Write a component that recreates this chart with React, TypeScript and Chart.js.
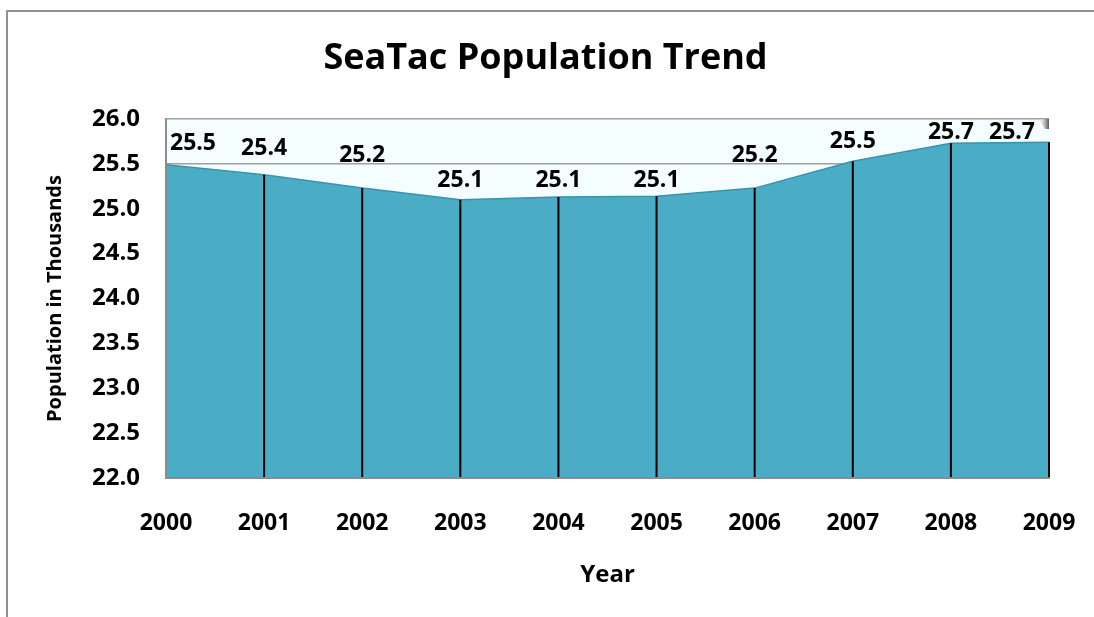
import React, { useEffect, useRef } from "react";
import { Chart, registerables } from "chart.js";

Chart.register(...registerables);

const chartTitle = "SeaTac Population Trend";
const xAxisTitle = "Year";
const yAxisTitle = "Population in Thousands";
const years = ["2000", "2001", "2002", "2003", "2004", "2005", "2006", "2007", "2008", "2009"];
const population = [25.49, 25.38, 25.23, 25.1, 25.13, 25.14, 25.23, 25.53, 25.73, 25.74];
const yMin = 22;
const yMax = 26;
const yStep = 0.5;

const FONT = "'Open Sans', 'Noto Sans', sans-serif";

const framePlugin = {
  id: "frame",
  beforeDraw(chart: any) {
    const { ctx, chartArea, width, height } = chart;
    ctx.save();
    ctx.fillStyle = "#ffffff";
    ctx.fillRect(0, 0, width, height);
    ctx.fillStyle = "#f4fdff";
    ctx.fillRect(chartArea.left, chartArea.top, chartArea.right - chartArea.left, chartArea.bottom - chartArea.top);
    ctx.restore();
  },
  afterDraw(chart: any) {
    const { ctx, chartArea } = chart;
    ctx.save();
    // small bevel at the top-right corner of the plot
    const g = ctx.createLinearGradient(chartArea.right - 12, 0, chartArea.right, 0);
    g.addColorStop(0, "rgba(255,255,255,0)");
    g.addColorStop(0.5, "rgba(200,200,200,0.8)");
    g.addColorStop(1, "rgba(90,90,90,1)");
    ctx.fillStyle = g;
    ctx.beginPath();
    ctx.moveTo(chartArea.right - 10, chartArea.top);
    ctx.lineTo(chartArea.right, chartArea.top);
    ctx.lineTo(chartArea.right, chartArea.top + 10);
    ctx.lineTo(chartArea.right - 4, chartArea.top + 10);
    ctx.closePath();
    ctx.fill();
    // outer frame
    ctx.strokeStyle = "#909090";
    ctx.lineWidth = 2;
    ctx.strokeRect(7, 11, 1200, 800);
    // chart title
    const size = 36;
    ctx.font = `bold ${size}px ${FONT}`;
    ctx.fillStyle = "#000000";
    ctx.textAlign = "center";
    ctx.textBaseline = "alphabetic";
    ctx.fillText(chartTitle, 545.5, 69);
    ctx.restore();
  },
};

const dropLinePlugin = {
  id: "dropLines",
  afterDatasetsDraw(chart: any) {
    const { ctx, chartArea } = chart;
    const meta = chart.getDatasetMeta(0);
    ctx.save();
    ctx.strokeStyle = "#000000";
    ctx.lineWidth = 2;
    meta.data.forEach((pt: any, i: number) => {
      if (i === 0) return;
      ctx.beginPath();
      ctx.moveTo(pt.x, pt.y);
      ctx.lineTo(pt.x, chartArea.bottom);
      ctx.stroke();
    });
    ctx.restore();
  },
};

const valueLabelPlugin = {
  id: "valueLabels",
  afterDatasetsDraw(chart: any) {
    const { ctx, chartArea, scales } = chart;
    const meta = chart.getDatasetMeta(0);
    const values = chart.data.datasets[0].data as number[];
    const size = 23;
    const capH = size * 0.714;
    const half = capH / 2 + 1;
    const gridYs = scales.y.ticks.map((t: any) => scales.y.getPixelForValue(t.value));
    ctx.save();
    ctx.font = `bold ${size}px ${FONT}`;
    ctx.fillStyle = "#000000";
    ctx.textAlign = "left";
    ctx.textBaseline = "alphabetic";
    meta.data.forEach((pt: any, i: number) => {
      const text = Number(values[i]).toFixed(1);
      const w = ctx.measureText(text).width;
      let left = pt.x - w / 2;
      left = Math.max(left, chartArea.left + 4);
      left = Math.min(left, chartArea.right - 14 - w);
      let cy = (pt.y + chartArea.top) / 2;
      for (const gy of gridYs) {
        if (gy > chartArea.top + 2 && cy - half < gy && cy + half > gy) {
          cy = gy + half + 6;
        }
      }
      ctx.fillText(text, left, cy + capH / 2);
    });
    ctx.restore();
  },
};

export default function App() {
  const canvasRef = useRef<HTMLCanvasElement>(null);

  useEffect(() => {
    const prevMargin = document.body.style.margin;
    document.body.style.margin = "0";
    const chart = new Chart(canvasRef.current as HTMLCanvasElement, {
      type: "line",
      data: {
        labels: years,
        datasets: [
          {
            data: population,
            fill: "start",
            backgroundColor: "#4bacc6",
            borderColor: "#3a93ab",
            borderWidth: 1.5,
            pointRadius: 0,
            tension: 0,
          },
        ],
      },
      options: {
        responsive: false,
        animation: false,
        layout: { padding: { left: 0, right: 45, top: 119, bottom: 0 } },
        plugins: {
          legend: { display: false },
          tooltip: { enabled: false },
          title: { display: false },
        },
        scales: {
          x: {
            type: "category",
            offset: false,
            grid: { display: false, drawTicks: false },
            border: { display: true, color: "#8c8c8c", width: 2, z: 1 },
            ticks: {
              color: "#000000",
              font: { family: FONT, size: 23, weight: "bold" },
              padding: 32,
              maxRotation: 0,
              autoSkip: false,
            },
            title: {
              display: true,
              text: xAxisTitle,
              color: "#000000",
              font: { family: FONT, size: 24, weight: "bold" },
              padding: { top: 0, bottom: 27 },
            },
            afterFit: (scale: any) => {
              scale.height = 139;
              scale.paddingLeft = 0;
              scale.paddingRight = 0;
            },
          },
          y: {
            min: yMin,
            max: yMax,
            grid: { color: "#a0a0a0", lineWidth: 1.5, drawTicks: false },
            border: { display: true, color: "#8c8c8c", width: 2, z: 1 },
            ticks: {
              stepSize: yStep,
              color: "#000000",
              font: { family: FONT, size: 24, weight: "bold" },
              padding: 26,
              callback: (v: any) => Number(v).toFixed(1),
            },
            title: {
              display: true,
              text: yAxisTitle,
              color: "#000000",
              font: { family: FONT, size: 20, weight: "bold" },
              padding: { top: 43, bottom: 0 },
            },
            afterFit: (scale: any) => {
              scale.width = 166;
              scale.paddingTop = 0;
              scale.paddingBottom = 0;
            },
          },
        },
      },
      plugins: [framePlugin, dropLinePlugin, valueLabelPlugin],
    } as any);
    return () => {
      chart.destroy();
      document.body.style.margin = prevMargin;
    };
  }, []);

  return (
    <div style={{ position: "absolute", left: 0, top: 0, width: 1094, height: 617 }}>
      <canvas ref={canvasRef} width={1094} height={617} style={{ display: "block" }} />
    </div>
  );
}
